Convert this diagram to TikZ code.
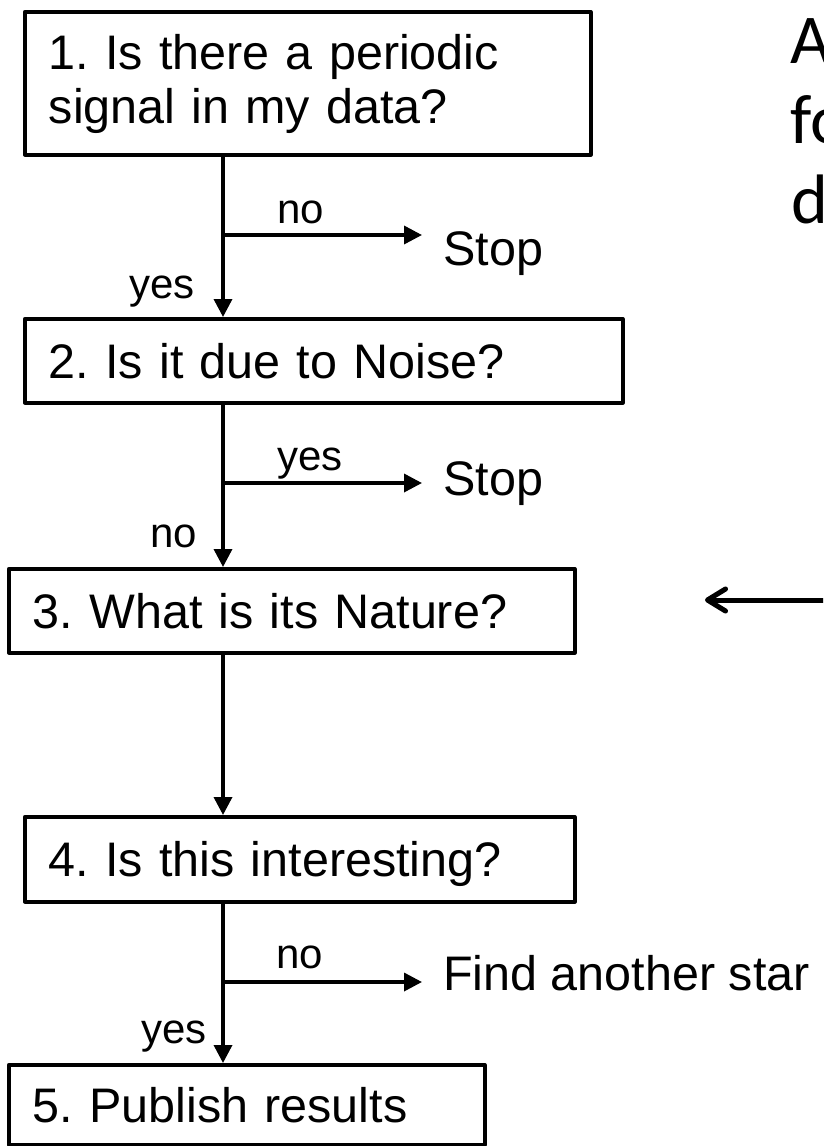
\documentclass[tikz,border=0pt]{standalone}
\usepackage{fontspec}
\setmainfont{Liberation Sans}
\newfontfamily\sidefont{Carlito}
\usetikzlibrary{arrows.meta}
\frenchspacing

\begin{document}
\begin{tikzpicture}[x=1pt,y=-1pt,line join=round,
	box/.style={draw,line width=3.5pt,anchor=north west,align=left,inner xsep=24pt,inner ysep=0pt,text height=35pt,text depth=0pt,font=\fontsize{48.5}{54}\selectfont},
	ans/.style={inner sep=0pt,anchor=base,font=\fontsize{42}{48}\selectfont},
	outcome/.style={inner xsep=21pt,inner ysep=0pt,anchor=base west,font=\fontsize{48.5}{54}\selectfont},
	flow/.style={line width=3.5pt,-{Triangle[length=18pt,width=18pt]}},
	side/.style={inner sep=0pt,anchor=base west,font=\sidefont\fontsize{70}{80}\selectfont}]
	\fill[white] (0,0) rectangle (823,1146);
	\useasboundingbox (0,0) rectangle (823,1146);
	\clip (0,0) rectangle (823,1146);
	% the five questions
	\node[box,minimum width=566pt,minimum height=143pt,text width=518pt,text depth=62pt] (q1) at (23,10) {1. Is there a periodic\\signal in my data?};
	\node[box,minimum width=598pt,minimum height=84pt,text width=550pt] (q2) at (23,317) {2. Is it due to Noise?};
	\node[box,minimum width=566pt,minimum height=84pt,text width=518pt] (q3) at (7,567) {3. What is its Nature?};
	\node[box,minimum width=550pt,minimum height=85pt,text width=502pt] (q4) at (23,815) {4. Is this interesting?};
	\node[box,minimum width=476pt,minimum height=80pt,text width=428pt] (q5) at (7,1063) {5. Publish results};
	\path 
	(223,0) coordinate (spine)
	(223,235) coordinate (j1)
	(223,483) coordinate (j2)
	(223,982) coordinate (j3)
	;
	\node[outcome] (s1) at (422,265) {Stop};
	\node[outcome] (s2) at (422,495) {Stop};
	\node[outcome] (s3) at (422,990) {Find another star};
	\draw[flow] (spine |- q1.south) -- (spine |- q2.north);
	\draw[flow] (spine |- q2.south) -- (spine |- q3.north);
	\draw[flow] (spine |- q3.south) -- (spine |- q4.north);
	\draw[flow] (spine |- q4.south) -- (spine |- q5.north);
	\draw[flow] (j1) -- (j1 -| s1.west);
	\draw[flow] (j2) -- (j2 -| s2.west);
	\draw[flow] (j3) -- (j3 -| s3.west);
	\node[ans] (n1) at (301,223) {no};
	\node[ans,anchor=base east] (y1) at (195,298) {yes};
	\node[ans] (y2) at (310,470) {yes};
	\node[ans,anchor=base east] (n2) at (197,547) {no};
	\node[ans] (n3) at (300,968) {no};
	\node[ans,anchor=base east] (y3) at (207,1043) {yes};
	% text running off the right edge
	\node[side] (r1) at (790,63) {A};
	\node[side] (r2) at (790,143) {fo};
	\node[side] (r3) at (791,223) {d};
	\path (845,600) coordinate (p1) (705,600) coordinate (p2);
	\draw[gray!35,line width=5pt,line cap=round,xshift=2pt,yshift=-3pt,-{Straight Barb[length=18pt,width=22pt,round]}] (p1) -- (p2);
	\draw[line width=5pt,line cap=round,-{Straight Barb[length=18pt,width=22pt,round]}] (p1) -- (p2);
\end{tikzpicture}
\end{document}
